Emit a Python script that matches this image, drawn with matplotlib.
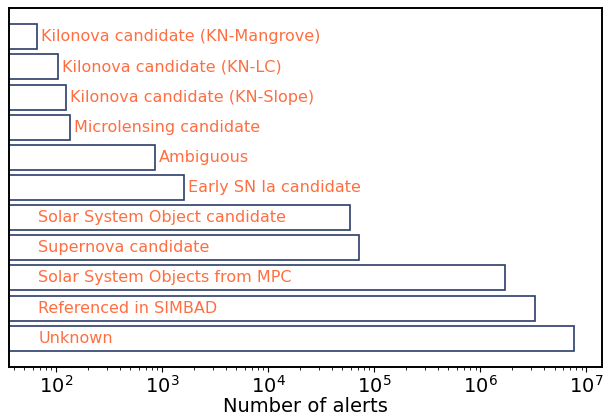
import numpy as np
import matplotlib.pyplot as plt

# alert classes, bottom to top as drawn
labels = [
    "Unknown",
    "Referenced in SIMBAD",
    "Solar System Objects from MPC",
    "Supernova candidate",
    "Solar System Object candidate",
    "Early SN Ia candidate",
    "Ambiguous",
    "Microlensing candidate",
    "Kilonova candidate (KN-Slope)",
    "Kilonova candidate (KN-LC)",
    "Kilonova candidate (KN-Mangrove)",
]
counts = [7.7e6, 3.3e6, 1.72e6, 7.1e4, 5.9e4, 1.6e3, 860, 135, 124, 104, 66]

text_color = "#ff6e40"
edge_color = "#2e3d6b"

fig = plt.figure(figsize=(6.05, 4.18), dpi=100)
ax = fig.add_axes([0.015, 0.122, 0.98, 0.859])

y = np.arange(len(labels))
ax.barh(y, counts, height=0.83, color="white", edgecolor=edge_color, linewidth=1.2)
ax.set_xscale("log")
ax.set_xlim(36, 1.4e7)

for yi, lab, c in zip(y, labels, counts):
    if c > 1e4:
        ax.text(68, yi, lab, color=text_color, fontsize=11.5, va="center", ha="left")
    else:
        ax.text(c * 1.09, yi, lab, color=text_color, fontsize=11.5, va="center", ha="left")

ax.set_yticks([])
ax.set_xlabel("Number of alerts", fontsize=14, labelpad=0)
ax.tick_params(axis="x", labelsize=14, direction="out", pad=2)
for s in ax.spines.values():
    s.set_linewidth(1.4)

fig.savefig("out.png", dpi=100)
